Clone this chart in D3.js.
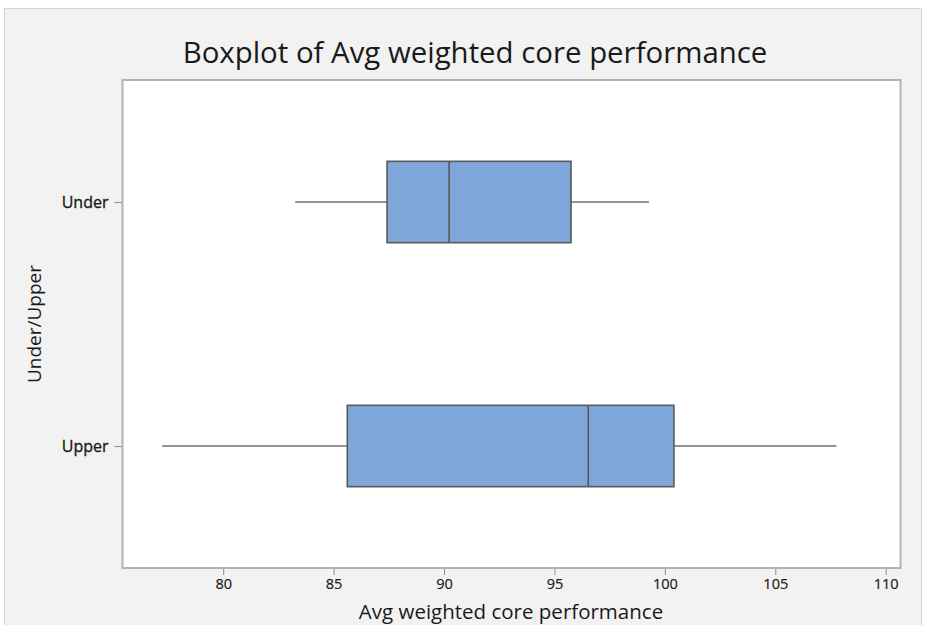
<!DOCTYPE html>
<html>
<head>
<meta charset="utf-8">
<script src="https://cdn.jsdelivr.net/npm/d3@7"></script>
<style>
  html, body { margin: 0; padding: 0; background: #ffffff; }
  svg { display: block; }
  text { font-family: "Open Sans", "Noto Sans", sans-serif; fill: #1a1a1a; }
</style>
</head>
<body>
<svg id="chart" width="926" height="625"></svg>
<script>
// Group labels (top to bottom) and five-number summaries per group
const groups = ["Under", "Upper"];
const whiskerLow  = [83.26, 77.24];
const quartile1   = [87.42, 85.62];
const medians     = [90.23, 96.53];
const quartile3   = [95.75, 100.41];
const whiskerHigh = [99.28, 107.77];
const xTicks = [80, 85, 90, 95, 100, 105, 110];

const title = "Boxplot of Avg weighted core performance";
const xTitle = "Avg weighted core performance";
const yTitle = "Under/Upper";

const svg = d3.select("#chart");
const W = 926, H = 625;
const plot = { left: 122.5, top: 80, right: 900.5, bottom: 568 };

// Outer panel
svg.append("rect")
  .attr("x", 4.5).attr("y", 8.5)
  .attr("width", W - 9).attr("height", H)
  .attr("fill", "#f2f2f2")
  .attr("stroke", "#d4d4d4").attr("stroke-width", 1);

// Plot area
svg.append("rect")
  .attr("x", plot.left).attr("y", plot.top)
  .attr("width", plot.right - plot.left).attr("height", plot.bottom - plot.top)
  .attr("fill", "#ffffff")
  .attr("stroke", "#b3b3b3").attr("stroke-width", 2);

const x = d3.scaleLinear().domain([75.44, 110.67]).range([plot.left, plot.right]);
const y = d3.scalePoint().domain(groups).range([plot.top, plot.bottom]).padding(0.5);
const boxH = y.step() / 3;

// Axes
const xAxis = svg.append("g")
  .attr("transform", `translate(0,${plot.bottom + 1})`)
  .call(d3.axisBottom(x).tickValues(xTicks).tickSize(6).tickPadding(4).tickFormat(d3.format("d")));
xAxis.select(".domain").remove();
xAxis.selectAll("line").attr("stroke", "#8c8c8c");
xAxis.selectAll("text").style("font-size", "14.5px").attr("fill", "#1a1a1a")
  .attr("stroke", "#1a1a1a").attr("stroke-width", 0.2);

const yAxis = svg.append("g")
  .attr("transform", `translate(${plot.left - 1},0)`)
  .call(d3.axisLeft(y).tickSize(7).tickPadding(6));
yAxis.select(".domain").remove();
yAxis.selectAll("line").attr("stroke", "#8c8c8c");
yAxis.selectAll("text").style("font-size", "16px").attr("fill", "#1a1a1a")
  .attr("stroke", "#1a1a1a").attr("stroke-width", 0.35);

// Boxes
const data = groups.map((g, i) => ({
  g, lo: whiskerLow[i], q1: quartile1[i], med: medians[i], q3: quartile3[i], hi: whiskerHigh[i]
}));

const box = svg.append("g").selectAll("g").data(data).join("g");

box.append("line")
  .attr("x1", d => x(d.lo)).attr("x2", d => x(d.q1))
  .attr("y1", d => y(d.g)).attr("y2", d => y(d.g))
  .attr("stroke", "#6e6e6e").attr("stroke-width", 1.6);
box.append("line")
  .attr("x1", d => x(d.q3)).attr("x2", d => x(d.hi))
  .attr("y1", d => y(d.g)).attr("y2", d => y(d.g))
  .attr("stroke", "#6e6e6e").attr("stroke-width", 1.6);
box.append("rect")
  .attr("x", d => x(d.q1)).attr("width", d => x(d.q3) - x(d.q1))
  .attr("y", d => y(d.g) - boxH / 2).attr("height", boxH)
  .attr("fill", "#7ea6d8")
  .attr("stroke", "#595959").attr("stroke-width", 1.6);
box.append("line")
  .attr("x1", d => x(d.med)).attr("x2", d => x(d.med))
  .attr("y1", d => y(d.g) - boxH / 2).attr("y2", d => y(d.g) + boxH / 2)
  .attr("stroke", "#595959").attr("stroke-width", 1.6);

// Titles
svg.append("text")
  .attr("x", 475).attr("y", 63)
  .attr("text-anchor", "middle")
  .style("font-size", "29.4px")
  .text(title);

svg.append("text")
  .attr("x", 511).attr("y", 619)
  .attr("text-anchor", "middle")
  .style("font-size", "20.5px")
  .text(xTitle);

svg.append("text")
  .attr("transform", `translate(41,324) rotate(-90)`)
  .attr("text-anchor", "middle")
  .style("font-size", "19px")
  .text(yTitle);
</script>
</body>
</html>
